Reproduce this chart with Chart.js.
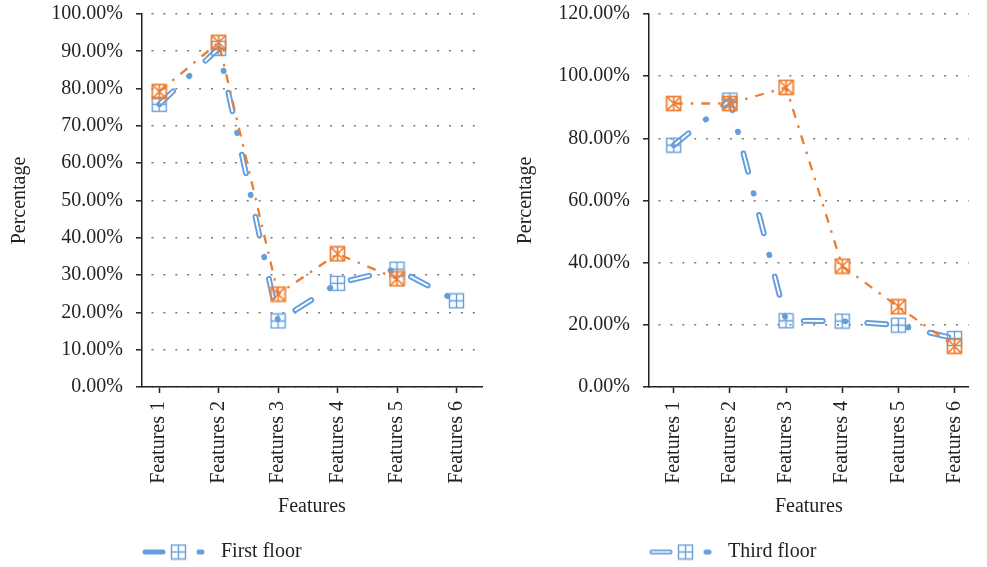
<!DOCTYPE html>
<html><head><meta charset="utf-8">
<script src="https://cdn.jsdelivr.net/npm/chart.js@4/dist/chart.umd.min.js"></script>
<style>
html,body{margin:0;padding:0;background:#fff;width:987px;height:567px;overflow:hidden}
#l{position:absolute;left:0;top:0}
#r{position:absolute;left:493px;top:0}
</style></head><body>
<canvas id="l" width="493" height="572"></canvas>
<canvas id="r" width="494" height="572"></canvas>
<script>
// ---- data ----
const categories = ['Features 1', 'Features 2', 'Features 3', 'Features 4', 'Features 5', 'Features 6'];
const firstFloor = [75.8, 90.8, 17.7, 27.8, 31.6, 23.1];
const firstFloorOrange = [79.2, 92.4, 24.9, 35.7, 29.0, null];
const thirdFloor = [77.8, 92.3, 21.3, 21.2, 19.9, 15.6];
const thirdFloorOrange = [91.2, 91.2, 96.4, 38.9, 25.8, 13.1];
const yTicksLeft = [0, 10, 20, 30, 40, 50, 60, 70, 80, 90, 100];
const yTicksRight = [0, 20, 40, 60, 80, 100, 120];
const legendLeft = 'First floor';
const legendRight = 'Third floor';
const xTitle = 'Features';
const yTitle = 'Percentage';

// ---- styles ----
const BLUE = '#659EDB';
const ORANGE = '#ED7D31';
const INK = '#231F20';
const FONT = "'Liberation Serif', 'Times New Roman', serif";

function blueMarker() {
  const c = document.createElement('canvas'); c.width = 17; c.height = 17;
  const g = c.getContext('2d');
  g.strokeStyle = BLUE; g.lineWidth = 1.4;
  g.strokeRect(1.5, 1.5, 14, 14);
  g.beginPath(); g.moveTo(8.5, 1.5); g.lineTo(8.5, 15.5); g.moveTo(1.5, 8.5); g.lineTo(15.5, 8.5); g.stroke();
  return c;
}
function orangeMarker() {
  const c = document.createElement('canvas'); c.width = 17; c.height = 17;
  const g = c.getContext('2d');
  g.strokeStyle = ORANGE; g.lineWidth = 1.7;
  g.strokeRect(1.5, 1.5, 14, 14);
  g.beginPath();
  g.moveTo(1.5, 1.5); g.lineTo(15.5, 15.5); g.moveTo(15.5, 1.5); g.lineTo(1.5, 15.5);
  g.moveTo(8.5, 1.5); g.lineTo(8.5, 15.5);
  g.stroke();
  return c;
}
function legendSymbol(double) {
  const c = document.createElement('canvas'); c.width = 69; c.height = 17;
  const g = c.getContext('2d');
  g.lineCap = 'round';
  g.strokeStyle = BLUE; g.lineWidth = 5;
  g.beginPath(); g.moveTo(3, 8.5); g.lineTo(21, 8.5); g.stroke();
  g.beginPath(); g.moveTo(57, 8.5); g.lineTo(60, 8.5); g.stroke();
  if (double) {
    g.strokeStyle = '#fff'; g.lineWidth = 1.6;
    g.beginPath(); g.moveTo(3, 8.5); g.lineTo(21, 8.5); g.stroke();
  }
  g.drawImage(blueMarker(), 28, 0);
  return c;
}

const pts = arr => arr.map((v, i) => ({x: i, y: v})).filter(p => p.y !== null);

function makeChart(id, blue, orange, yTicks, xMin, xMax, yWidth, titlePad, legendText, padRight, dbl) {
  return new Chart(document.getElementById(id), {
    type: 'line',
    data: {
      datasets: [
        {data: pts(blue), borderColor: BLUE, borderWidth: 5.8, borderDash: [19, 22, 0.5, 22],
         borderCapStyle: 'round', borderJoinStyle: 'round', pointRadius: 0, fill: false, tension: 0, order: 4},
        {data: pts(blue), borderColor: '#ffffff', borderWidth: 1.9, borderDash: [19, 44.5],
         borderCapStyle: 'round', pointRadius: 0, fill: false, tension: 0, order: 3},
        {data: pts(blue), showLine: false, pointStyle: blueMarker(), pointRadius: 8, order: 2},
        {data: pts(orange), borderColor: ORANGE, borderWidth: 2.3, borderDash: [9, 8, 2.5, 8],
         borderCapStyle: 'butt', pointStyle: orangeMarker(), pointRadius: 8, fill: false, tension: 0, order: 1}
      ]
    },
    options: {
      responsive: false, animation: false, events: [],
      layout: {padding: {top: 14, right: padRight, bottom: 0, left: 0}},
      plugins: {
        tooltip: {enabled: false},
        legend: {
          position: 'bottom', align: 'start', fullSize: false,
          labels: {
            usePointStyle: true, pointStyleWidth: 69, padding: 0,
            color: INK, font: {family: FONT, size: 20},
            generateLabels: () => [{text: legendText, pointStyle: legendSymbol(dbl), fillStyle: 'transparent',
              strokeStyle: 'transparent', lineWidth: 0, hidden: false, datasetIndex: 0, fontColor: INK}]
          }
        }
      },
      scales: {
        x: {
          type: 'linear', min: xMin, max: xMax,
          afterBuildTicks: s => { s.ticks = categories.map((_, i) => ({value: i})); },
          afterFit: s => { s.height = 155; },
          ticks: {callback: v => categories[v] ?? '', minRotation: 90, maxRotation: 90, autoSkip: false,
                  padding: 8, color: INK, font: {family: FONT, size: 20}},
          grid: {drawOnChartArea: false, drawTicks: true, tickLength: 6, tickColor: INK, tickWidth: 1.5},
          border: {display: true, color: INK, width: 1.5},
          title: {display: true, text: xTitle, color: INK, font: {family: FONT, size: 20}, padding: {top: 0, bottom: 23}}
        },
        y: {
          min: yTicks[0], max: yTicks[yTicks.length - 1],
          afterBuildTicks: s => { s.ticks = yTicks.map(v => ({value: v})); },
          afterFit: s => { s.width = yWidth; s.paddingTop = 0; s.paddingBottom = 0; },
          ticks: {callback: v => v.toFixed(2) + '%', padding: 13, color: INK, font: {family: FONT, size: 20}},
          grid: {color: '#7a7a7a', lineWidth: 1.6, drawTicks: true, tickLength: 6, tickColor: INK, tickWidth: 1.5, tickBorderDash: []},
          border: {display: true, color: INK, width: 1.5, dash: [2, 9.9], dashOffset: -9},
          title: {display: true, text: yTitle, color: INK, font: {family: FONT, size: 20}, padding: {top: titlePad, bottom: 0}}
        }
      }
    }
  });
}

makeChart('l', firstFloor, firstFloorOrange, yTicksLeft, -0.29, 5.43, 142, 8, legendLeft, 11, false);
makeChart('r', thirdFloor, thirdFloorOrange, yTicksRight, -0.44, 5.25, 156, 21, legendRight, 0, true);
</script>
</body></html>
